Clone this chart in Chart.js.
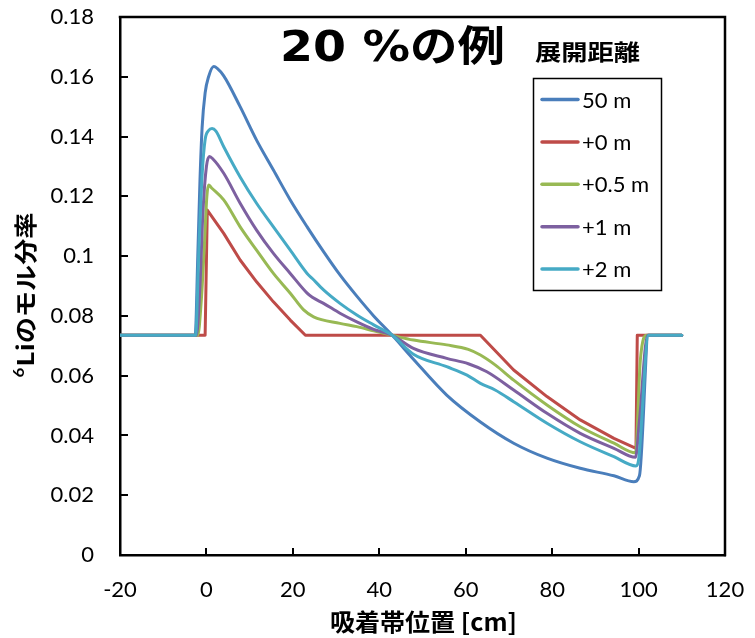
<!DOCTYPE html>
<html>
<head>
<meta charset="utf-8">
<script src="https://cdn.jsdelivr.net/npm/chart.js@4/dist/chart.umd.min.js"></script>
<style>
  html, body { margin: 0; padding: 0; background: #fff; }
  canvas { display: block; }
</style>
</head>
<body>
<canvas id="c" width="755" height="638"></canvas>
<script>
// series names (legend order)
const seriesNames = ["50 m", "+0 m", "+0.5 m", "+1 m", "+2 m"];
const seriesColors = ["#4A7EBB", "#BE4B48", "#98B954", "#7D60A0", "#46AAC5"];

// 50 m
const x50m = [-20, -2.6, -2.0, -1.5, -1.0, -0.3, 0.5, 1.7, 2.5, 4.0, 7.8, 11.6, 15.5, 19.4, 23.3, 27.1, 30.9, 34.8, 38.7, 43.0, 47.9, 55.6, 63.4, 71.1, 78.8, 86.5, 94.3, 98.9, 100.2, 102.3, 110];
const y50m = [0.0735, 0.0735, 0.100, 0.125, 0.143, 0.1546, 0.160, 0.1634, 0.1628, 0.1603, 0.150, 0.1388, 0.1288, 0.1188, 0.1098, 0.1015, 0.0937, 0.0866, 0.0800, 0.0735, 0.0655, 0.0535, 0.0445, 0.0374, 0.0324, 0.0290, 0.0265, 0.0245, 0.0265, 0.0735, 0.0735];
// +0 m
const x0m = [-20, -0.3, 0.2, 4.0, 7.8, 11.6, 15.5, 19.4, 22.9, 63.4, 71.1, 78.8, 86.5, 94.3, 99.4, 99.7, 110];
const y0m = [0.0735, 0.0735, 0.1154, 0.1076, 0.0987, 0.0914, 0.0847, 0.0786, 0.0735, 0.0735, 0.0619, 0.0530, 0.0452, 0.0390, 0.0357, 0.0735, 0.0735];
// +0.5 m
const x05m = [-20, -2.0, -1.2, -0.5, 0.1, 0.5, 1.2, 4.0, 7.8, 11.6, 15.5, 19.4, 22.5, 24.8, 30.9, 34.8, 38.7, 43.0, 47.9, 55.6, 60.6, 63.4, 66.8, 71.1, 78.8, 86.5, 94.3, 99.3, 100.4, 101.9, 110];
const y05m = [0.0735, 0.0735, 0.085, 0.103, 0.120, 0.1238, 0.1228, 0.1188, 0.1098, 0.1020, 0.0942, 0.0876, 0.0820, 0.0797, 0.0775, 0.0764, 0.0750, 0.0735, 0.0719, 0.0703, 0.0688, 0.0669, 0.0636, 0.0585, 0.0502, 0.0429, 0.0374, 0.0342, 0.065, 0.0735, 0.0735];
// +1 m
const x1m = [-20, -2.3, -1.5, -0.8, 0, 0.7, 1.5, 4.0, 7.8, 11.6, 15.5, 19.4, 23.3, 24.5, 27.1, 30.9, 34.8, 38.7, 43.0, 47.9, 55.6, 60.6, 64.9, 71.1, 78.8, 86.5, 94.3, 99.3, 100.2, 102.1, 110];
const y1m = [0.0735, 0.0735, 0.090, 0.115, 0.130, 0.1333, 0.1325, 0.1277, 0.1177, 0.1087, 0.1009, 0.0942, 0.0876, 0.0862, 0.0842, 0.0809, 0.0780, 0.0755, 0.0735, 0.0691, 0.0658, 0.0640, 0.0613, 0.0552, 0.0474, 0.0407, 0.0357, 0.0327, 0.045, 0.0735, 0.0735];
// +2 m
const x2m = [-20, -2.5, -1.8, -1.0, -0.3, 0.5, 1.3, 2.2, 4.0, 7.8, 11.6, 15.5, 19.4, 23.3, 24.5, 27.1, 30.9, 34.8, 38.7, 43.0, 47.9, 55.6, 60.3, 63.4, 66.8, 71.1, 78.8, 86.5, 94.3, 99.4, 100.0, 102.3, 110];
const y2m = [0.0735, 0.0735, 0.100, 0.127, 0.139, 0.1420, 0.1427, 0.1418, 0.1366, 0.1265, 0.1177, 0.1098, 0.1020, 0.0942, 0.0925, 0.0887, 0.0842, 0.0803, 0.0770, 0.0735, 0.0672, 0.0630, 0.0602, 0.0574, 0.0552, 0.0513, 0.0441, 0.0379, 0.0329, 0.0298, 0.0318, 0.0735, 0.0735];

const seriesX = [x50m, x0m, x05m, x1m, x2m];
const seriesY = [y50m, y0m, y05m, y1m, y2m];

// axes
const xMin = -20, xMax = 120, xStep = 20;
const yMin = 0, yMax = 0.18, yStep = 0.02;

const chartTitle = "20 %の例";
const legendTitle = "展開距離";
const xTitle = "吸着帯位置 [cm]";
const yTitleSup = "6";
const yTitle = "Liのモル分率";

const CJK = "'Noto Sans CJK JP', sans-serif";
const LAT = "Lato, 'Open Sans', sans-serif";

function fitText(ctx, text, cx, cy, font, w, rot) {
  ctx.save();
  ctx.font = font;
  const m = ctx.measureText(text).width;
  ctx.translate(cx, cy);
  if (rot) ctx.rotate(-Math.PI / 2);
  ctx.scale(w / m, 1);
  ctx.textAlign = "center";
  ctx.textBaseline = "middle";
  ctx.fillStyle = "#000";
  ctx.fillText(text, 0, 0);
  ctx.restore();
}

const decor = {
  id: "decor",
  afterDraw(chart) {
    const { ctx, chartArea: a, scales: { x, y } } = chart;
    ctx.save();
    ctx.strokeStyle = "#000";
    ctx.lineWidth = 2.5;
    ctx.lineCap = "square";
    // top and right of the frame
    ctx.beginPath();
    ctx.moveTo(a.left, a.top); ctx.lineTo(a.right, a.top); ctx.lineTo(a.right, a.bottom);
    ctx.stroke();
    // inward ticks
    ctx.lineWidth = 2;
    ctx.lineCap = "butt";
    ctx.beginPath();
    x.ticks.forEach(t => {
      const px = Math.round(x.getPixelForValue(t.value));
      ctx.moveTo(px, a.bottom); ctx.lineTo(px, a.bottom - 7);
    });
    y.ticks.forEach(t => {
      const py = Math.round(y.getPixelForValue(t.value));
      ctx.moveTo(a.left, py); ctx.lineTo(a.left + 8, py);
    });
    ctx.stroke();

    // titles
    fitText(ctx, chartTitle, 392.5, 50, "bold 42px 'DejaVu Sans', " + CJK, 225);
    fitText(ctx, legendTitle, 587.5, 52, "bold 22px " + CJK, 105);
    fitText(ctx, xTitle, 423.5, 622, "bold 24px " + CJK, 187);

    // y title with superscript 6
    ctx.save();
    ctx.translate(25, 295);
    ctx.rotate(-Math.PI / 2);
    const supFont = "bold 15px " + LAT, mainFont = "bold 23px " + CJK;
    ctx.font = supFont; const ws = ctx.measureText(yTitleSup).width;
    ctx.font = mainFont; const wm = ctx.measureText(yTitle).width;
    const sx = 165 / (ws + wm + 1);
    ctx.scale(sx, 1);
    const start = -(ws + wm + 1) / 2;
    ctx.fillStyle = "#000";
    ctx.textBaseline = "middle";
    ctx.textAlign = "left";
    ctx.font = supFont; ctx.fillText(yTitleSup, start, -6);
    ctx.font = mainFont; ctx.fillText(yTitle, start + ws + 1, 0);
    ctx.restore();

    // legend box
    ctx.lineWidth = 1.5;
    ctx.strokeStyle = "#000";
    ctx.strokeRect(533.5, 78.5, 128, 212);
    ctx.font = "22px " + LAT;
    ctx.textBaseline = "middle";
    ctx.textAlign = "left";
    chart.data.datasets.forEach((ds, i) => {
      const cy = 99.5 + i * 42.4;
      ctx.strokeStyle = ds.borderColor;
      ctx.lineWidth = 3.5;
      ctx.lineCap = "round";
      ctx.beginPath(); ctx.moveTo(542, cy); ctx.lineTo(578, cy); ctx.stroke();
      ctx.fillStyle = "#000";
      ctx.fillText(ds.label, 582, cy + 1);
    });
    ctx.restore();
  }
};

const datasets = seriesNames.map((name, i) => ({
  label: name,
  data: seriesX[i].map((v, j) => ({ x: v, y: seriesY[i][j] })),
  borderColor: seriesColors[i],
  backgroundColor: seriesColors[i],
  borderWidth: 3,
  pointRadius: 0,
  fill: false,
  borderCapStyle: "round",
  borderJoinStyle: "round",
  tension: 0,
  cubicInterpolationMode: i === 1 ? "default" : "monotone",
  order: seriesNames.length - i
}));

// invisible outward tick marks give the label offset without extra layout padding
const hiddenTicks = len => ({ display: true, drawOnChartArea: false, drawTicks: true, tickLength: len, tickColor: "rgba(0,0,0,0)" });

new Chart(document.getElementById("c"), {
  type: "line",
  data: { datasets },
  options: {
    responsive: false,
    animation: false,
    devicePixelRatio: 1,
    layout: { padding: { top: 17, right: 30, left: 0, bottom: 0 } },
    plugins: { legend: { display: false }, tooltip: { enabled: false } },
    scales: {
      x: {
        type: "linear", min: xMin, max: xMax,
        afterFit: s => { s.height = 83; },
        grid: hiddenTicks(22),
        border: { display: true, color: "#000", width: 2.5 },
        ticks: { stepSize: xStep, padding: 0, color: "#000", font: { family: LAT, size: 22 }, maxRotation: 0 }
      },
      y: {
        type: "linear", min: yMin, max: yMax,
        afterFit: s => { s.width = 120; },
        grid: hiddenTicks(26),
        border: { display: true, color: "#000", width: 2.5 },
        ticks: { stepSize: yStep, padding: 0, color: "#000", font: { family: LAT, size: 22 },
                 callback: v => String(+v.toFixed(2)) }
      }
    }
  },
  plugins: [decor]
});
</script>
</body>
</html>
